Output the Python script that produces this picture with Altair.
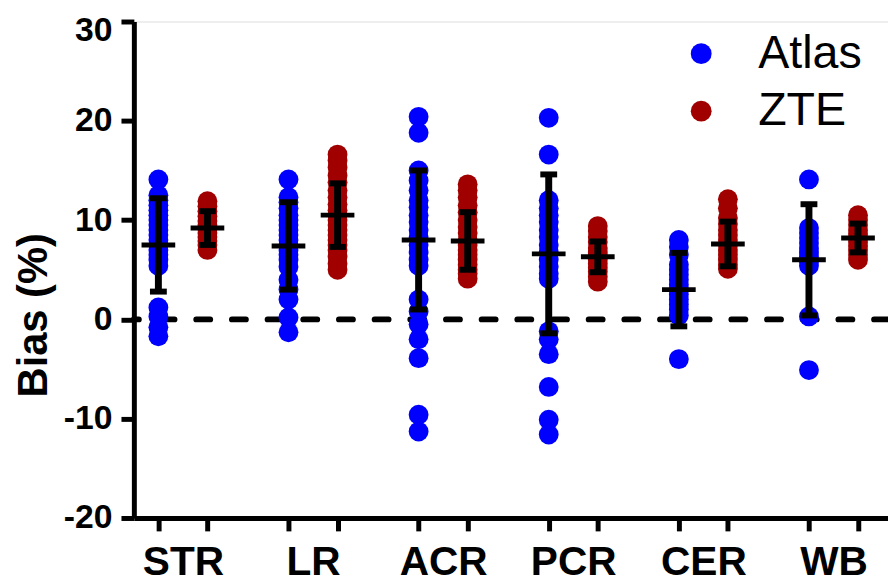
import json
import altair as alt
import pandas as pd

categories = ["STR", "LR", "ACR", "PCR", "CER", "WB"]
series = ["Atlas", "ZTE"]

atlas_points = [
    [14.1, 12.5, 12.0, 11.5, 11.0, 10.5, 10.0, 9.5, 9.0, 8.5, 8.0, 7.5, 7.0, 6.5, 6.0, 5.4, 1.2, 0.3, -0.8, -1.7],
    [14.1, 12.3, 11.8, 11.2, 10.5, 10.0, 9.5, 9.0, 8.5, 8.0, 7.5, 7.0, 6.5, 6.0, 5.3, 4.0, 3.0, 2.0, 0.2, -1.3],
    [20.4, 18.8, 15.0, 14.0, 13.0, 12.0, 11.3, 10.5, 9.8, 9.0, 8.3, 7.5, 6.8, 6.0, 5.4, 2.0, 0.8, -0.5, -2.0, -3.9, -9.6, -11.3],
    [20.3, 16.6, 12.0, 11.2, 10.5, 9.8, 9.0, 8.3, 7.5, 6.8, 6.0, 5.3, 4.6, 4.1, -1.2, -2.0, -3.5, -6.8, -10.1, -11.6],
    [8.0, 7.3, 6.5, 5.5, 5.0, 4.5, 4.0, 3.5, 3.0, 2.5, 2.0, 1.5, 1.0, 0.4, -4.0],
    [14.1, 9.2, 8.7, 8.2, 7.7, 7.2, 6.8, 6.3, 5.8, 5.4, 0.3, -5.1],
]
zte_points = [
    [11.9, 11.4, 10.9, 10.4, 9.9, 9.5, 9.1, 8.7, 8.3, 7.9, 7.5, 7.0],
    [16.6, 16.0, 15.3, 14.5, 13.8, 13.0, 12.3, 11.6, 11.0, 10.5, 10.0, 9.5, 9.0, 8.5, 8.0, 7.5, 7.0, 6.3, 5.6, 5.0],
    [13.6, 13.0, 12.3, 11.5, 10.8, 10.0, 9.3, 8.7, 8.0, 7.5, 7.0, 6.5, 6.0, 5.5, 5.0, 4.6, 4.1],
    [9.4, 8.9, 8.3, 7.8, 7.2, 6.8, 6.4, 6.0, 5.6, 5.2, 4.8, 4.3, 3.8],
    [12.1, 11.2, 10.2, 9.6, 9.0, 8.5, 8.0, 7.5, 7.0, 6.5, 6.0, 5.5, 5.1],
    [10.5, 10.0, 9.5, 9.0, 8.6, 8.2, 7.8, 7.4, 7.0, 6.5, 6.0],
]
atlas_mean = [7.5, 7.4, 8.0, 6.6, 3.0, 6.0]
atlas_sd = [4.7, 4.4, 7.0, 8.0, 3.7, 5.6]
zte_mean = [9.2, 10.5, 7.9, 6.3, 7.6, 8.2]
zte_sd = [1.7, 3.2, 2.9, 1.55, 2.25, 1.45]
y_ticks = [-20, -10, 0, 10, 20, 30]

# layout helpers (group index +/- dodge)
OFF = 0.1885
ATLAS_COLOR = "#0000ff"
ZTE_COLOR = "#a00000"
FONT = "Liberation Sans"

pts_rows, stat_rows = [], []
for s_idx, (sname, pts, means, sds) in enumerate(
    [("Atlas", atlas_points, atlas_mean, atlas_sd), ("ZTE", zte_points, zte_mean, zte_sd)]
):
    d = -OFF if s_idx == 0 else OFF
    for i, cat in enumerate(categories):
        for v in pts[i]:
            pts_rows.append({"pos": i + d, "value": v, "series": sname})
        stat_rows.append({"pos": i + d, "mean": means[i], "lo": means[i] - sds[i], "hi": means[i] + sds[i]})
pts_df = pd.DataFrame(pts_rows)
stat_df = pd.DataFrame(stat_rows)
cap_df = pd.concat([
    stat_df[["pos", "lo"]].rename(columns={"lo": "cap"}),
    stat_df[["pos", "hi"]].rename(columns={"hi": "cap"}),
])

tick_positions = sorted([i + d for i in range(len(categories)) for d in (-OFF, 0.0, OFF)])
int_test = "abs(datum.value - round(datum.value)) < 0.001"
label_expr = f"{int_test} ? {json.dumps(categories)}[round(datum.value)] : ''"

xscale = alt.Scale(domain=[-0.377, 5.419], nice=False, zero=False)
yscale = alt.Scale(domain=[-20, 30], nice=False, zero=False)

xaxis = alt.Axis(
    values=tick_positions, labelExpr=label_expr, title=None, grid=False,
    domainColor="black", domainWidth=5, tickColor="black", tickWidth=5, tickSize=13,
    tickOpacity={"condition": {"test": int_test, "value": 0}, "value": 1},
    labelFont=FONT, labelFontSize=41, labelFontWeight="bold", labelColor="black",
    labelPadding=12, labelOverlap=False, labelFlush=False, labelBound=False,
)
yaxis = alt.Axis(
    values=y_ticks, title="Bias (%)", grid=False,
    labelExpr="datum.value < 0 ? '-' + abs(datum.value) : '' + datum.value",
    labelOffset={"condition": {"test": f"datum.value == {max(y_ticks)}", "value": 9}, "value": 0},
    domainColor="black", domainWidth=5, tickColor="black", tickWidth=5, tickSize=13,
    labelFont=FONT, labelFontSize=34, labelFontWeight="bold", labelColor="black",
    labelPadding=9, labelFlush=False, labelOverlap=False,
    titleFont=FONT, titleFontSize=42, titleFontWeight="bold",
    titleColor="black", titleX=-88, titleY=296, titleAngle=270,
    titleAlign="center", titleBaseline="alphabetic",
)

X = lambda f: alt.X(f, scale=xscale, axis=xaxis)
Y = lambda f: alt.Y(f, scale=yscale, axis=yaxis)

zero = alt.Chart(pd.DataFrame({"zero": [0]})).mark_rule(
    color="black", strokeWidth=6, strokeDash=[14, 22], strokeCap="round"
).encode(y=Y("zero:Q"))

dots = alt.Chart(pts_df).mark_circle(size=400, opacity=1).encode(
    x=X("pos:Q"), y=Y("value:Q"),
    color=alt.Color(
        "series:N",
        scale=alt.Scale(domain=series, range=[ATLAS_COLOR, ZTE_COLOR]),
        legend=alt.Legend(
            orient="none", legendX=549, legendY=9, title=None, padding=0,
            labelFont=FONT, labelFontSize=47, labelColor="black",
            symbolType="circle", symbolSize=441, symbolStrokeWidth=0,
            labelOffset=34, rowPadding=10,
        ),
    ),
)

bars = alt.Chart(stat_df).mark_rule(color="black", strokeWidth=7).encode(
    x=X("pos:Q"), y=Y("lo:Q"), y2="hi:Q"
)
caps = alt.Chart(cap_df).mark_tick(
    orient="horizontal", color="black", size=17, thickness=6, opacity=1
).encode(x=X("pos:Q"), y=Y("cap:Q"))
means = alt.Chart(stat_df).mark_tick(
    orient="horizontal", color="black", size=34, thickness=5, opacity=1
).encode(x=X("pos:Q"), y=Y("mean:Q"))

chart = alt.layer(zero, dots, bars, caps, means).properties(
    width=761, height=501,
    autosize=alt.AutoSizeParams(type="none"),
    padding={"left": 127, "top": 11, "right": 0, "bottom": 67},
).configure_view(stroke=None).configure(background="white")

chart.save("out.html", embed_options={"renderer": "svg", "actions": False})
